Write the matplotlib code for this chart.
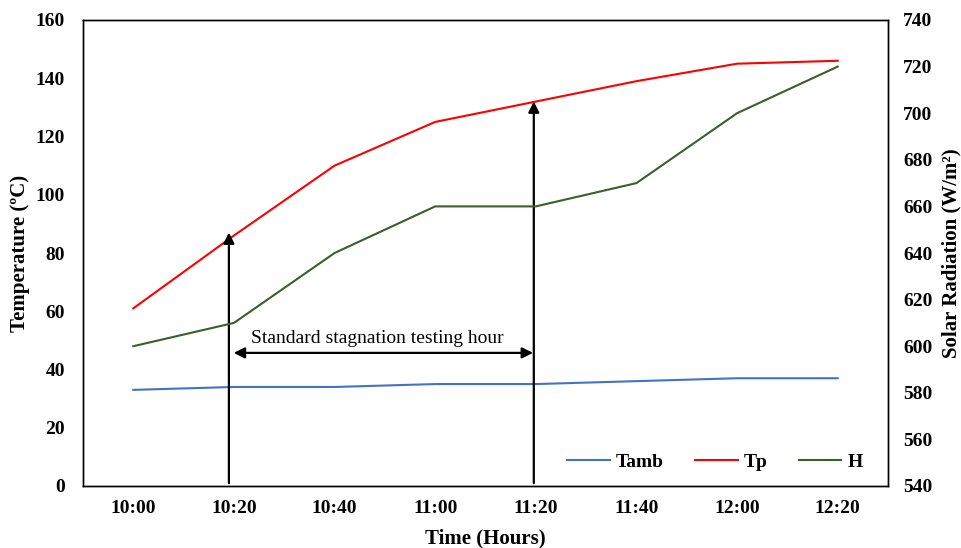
import matplotlib
matplotlib.use("Agg")
import matplotlib.pyplot as plt

plt.rcParams['font.family'] = ['Liberation Serif', 'DejaVu Serif']

times = ["10:00", "10:20", "10:40", "11:00", "11:20", "11:40", "12:00", "12:20"]
tamb = [33, 34, 34, 35, 35, 36, 37, 37]
tp = [61, 86, 110, 125, 132, 139, 145, 146]
h = [600, 610, 640, 660, 660, 670, 700, 720]

fig = plt.figure(figsize=(9.61, 5.48), dpi=100)
ax = fig.add_axes([83/961, 1 - 486/548, (888-83)/961, (486-20)/548])
ax2 = ax.twinx()

x = list(range(len(times)))
l1, = ax.plot(x, tamb, color='#4472C4', lw=1.5, label='Tamb')
l2, = ax.plot(x, tp, color='#FF0000', lw=1.5, label='Tp')
l3, = ax2.plot(x, h, color='#3B5E2B', lw=1.5, label='H')

ax.set_xlim(-0.5, 7.5)
ax.set_ylim(0, 160)
ax2.set_ylim(540, 740)
ax.set_yticks(range(0, 161, 20))
ax2.set_yticks(range(540, 741, 20))
ax.set_xticks(x)
ax.set_xticklabels(times)

for a in (ax, ax2):
    a.tick_params(length=0, labelsize=14)
    for lbl in a.get_xticklabels() + a.get_yticklabels():
        lbl.set_fontweight('bold')
    for s in a.spines.values():
        s.set_linewidth(1.0)
ax.tick_params(axis='y', pad=13)
ax2.tick_params(axis='y', pad=11)
ax.tick_params(axis='x', pad=10)

ax.set_xlabel('Time (Hours)', fontsize=15, fontweight='bold', labelpad=8)
ax.set_ylabel('Temperature (\u00baC)', fontsize=15, fontweight='bold', labelpad=4)
ax2.set_ylabel('Solar Radiation (W/m\u00b2)', fontsize=15, fontweight='bold', labelpad=6)

# annotations
arrow = dict(arrowstyle='-|>', color='black', lw=1.6, mutation_scale=16)
ax.annotate('', xy=(0.95, 88), xytext=(0.95, 0), arrowprops=arrow)
ax.annotate('', xy=(3.98, 133), xytext=(3.98, 0), arrowprops=arrow)
ax.annotate('', xy=(0.97, 45.7), xytext=(4.0, 45.7),
            arrowprops=dict(arrowstyle='<|-|>', color='black', lw=1.6, mutation_scale=16))
ax.text(2.42, 50.5, 'Standard stagnation testing hour', ha='center', va='center', fontsize=14)

leg = ax.legend(handles=[l1, l2, l3], loc='lower right', ncol=3, frameon=False,
                prop={'weight': 'bold', 'size': 14}, handlelength=2.2,
                columnspacing=1.6, handletextpad=0.3, bbox_to_anchor=(0.99, -0.005))

fig.savefig('out.png', dpi=100)
